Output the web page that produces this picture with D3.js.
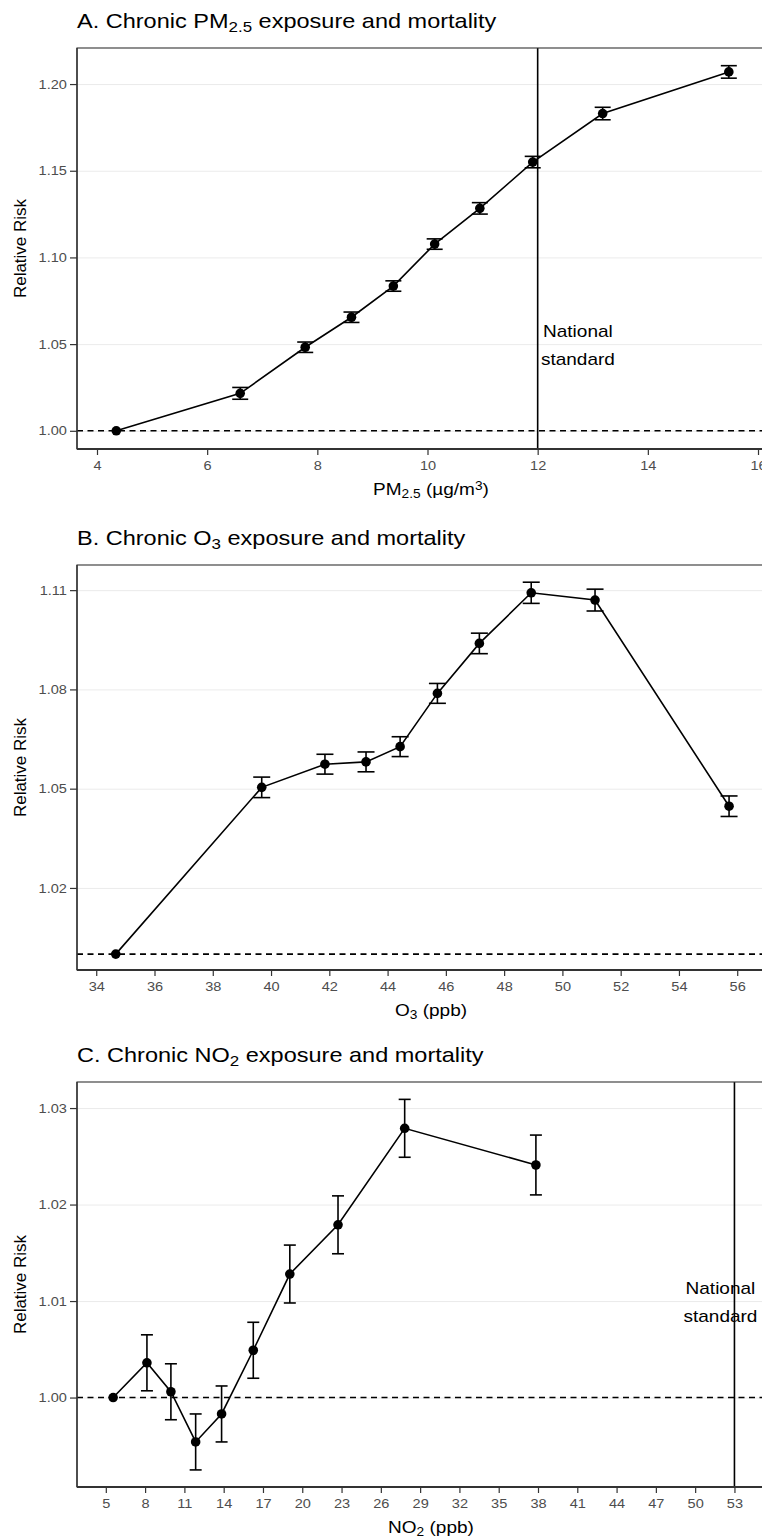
<!DOCTYPE html>
<html>
<head>
<meta charset="utf-8">
<script src="https://cdn.jsdelivr.net/npm/d3@7"></script>
<style>
  body { margin: 0; background: #fff; }
  svg { display: block; font-family: "Liberation Sans", Arial, sans-serif; }
  .grid line { stroke: #ebebeb; stroke-width: 1; }
  .axis text { fill: #4d4d4d; font-size: 13px; }
  .axis path { display: none; }
  .axis line { stroke: #333; stroke-width: 1.2; }
</style>
</head>
<body>
<div id="chart"></div>
<script>
// Panel A: PM2.5
const pmX   = [4.35, 6.60, 7.78, 8.62, 9.38, 10.13, 10.95, 11.91, 13.18, 15.47];
const pmRR  = [1.000, 1.0216, 1.0482, 1.0655, 1.0835, 1.1077, 1.1283, 1.1550, 1.1830, 1.2070];
const pmErr = [0, 0.0034, 0.0030, 0.0030, 0.0030, 0.0030, 0.0033, 0.0033, 0.0036, 0.0036];
const pmXTicks = [4, 6, 8, 10, 12, 14, 16];
const pmYTicks = [1.00, 1.05, 1.10, 1.15, 1.20];

// Panel B: O3
const o3X   = [34.67, 39.68, 41.85, 43.26, 44.43, 45.71, 47.15, 48.93, 51.12, 55.72];
const o3RR  = [1.000, 1.0504, 1.0574, 1.0581, 1.0627, 1.0788, 1.0939, 1.1092, 1.1070, 1.0447];
const o3Err = [0, 0.0031, 0.0030, 0.0030, 0.0030, 0.0030, 0.0031, 0.0032, 0.0033, 0.0031];
const o3XTicks = [34, 36, 38, 40, 42, 44, 46, 48, 50, 52, 54, 56];
const o3YTicks = [1.02, 1.05, 1.08, 1.11];

// Panel C: NO2
const no2X   = [5.56, 8.14, 9.97, 11.86, 13.84, 16.26, 19.05, 22.73, 27.82, 37.84];
const no2RR  = [1.000, 1.0036, 1.0006, 0.9954, 0.9983, 1.0049, 1.0128, 1.0179, 1.0279, 1.0241];
const no2Err = [0, 0.0029, 0.0029, 0.0029, 0.0029, 0.0029, 0.0030, 0.0030, 0.0030, 0.0031];
const no2XTicks = [5, 8, 11, 14, 17, 20, 23, 26, 29, 32, 35, 38, 41, 44, 47, 50, 53];
const no2YTicks = [1.00, 1.01, 1.02, 1.03];

const W = 762, H = 1538;
const SX = 1.12; // text in the original is a little wide

const svg = d3.select("#chart").append("svg")
    .attr("width", W)
    .attr("height", H);

// title / label pieces: [text, "sub" | "sup" | null]
function richText(sel, parts, size) {
    parts.forEach(p => {
        const t = sel.append("tspan").text(p[0]);
        if (p[1] == "sub") t.attr("baseline-shift", "-25%").style("font-size", (size * 0.72) + "px");
        if (p[1] == "sup") t.attr("baseline-shift", "40%").style("font-size", (size * 0.72) + "px");
    });
}

function panel(opt) {
    const left = 77, right = 785;
    const top = opt.top, bottom = opt.bottom;

    var x = d3.scaleLinear().domain(opt.xDomain).range([left, right]);
    var y = d3.scaleLinear().domain(opt.yDomain).range([bottom, top]);

    const g = svg.append("g");

    // title
    richText(g.append("g")
        .attr("transform", "translate(" + left + "," + (top - 20) + ") scale(" + SX + ",1)")
        .append("text")
        .style("font-size", "21px")
        .style("fill", "#000"), opt.title, 21);

    // gridlines (horizontal only)
    g.append("g")
        .attr("class", "grid")
        .attr("transform", "translate(" + left + ",0)")
        .call(d3.axisLeft(y).tickValues(opt.yTicks).tickSize(-(right - left)).tickFormat(""))
        .call(s => s.select(".domain").remove());

    // reference line at RR = 1
    g.append("line")
        .attr("x1", left).attr("x2", right)
        .attr("y1", y(1)).attr("y2", y(1))
        .style("stroke", "#000")
        .style("stroke-width", 1.6)
        .style("stroke-dasharray", "6,4.5");

    // national standard
    if (opt.standard != null) {
        g.append("line")
            .attr("x1", x(opt.standard)).attr("x2", x(opt.standard))
            .attr("y1", top).attr("y2", bottom)
            .style("stroke", "#000")
            .style("stroke-width", 1.6);

        const lab = g.append("g")
            .attr("transform", "translate(" + x(opt.labelX) + "," + y(opt.labelY) + ") scale(" + SX + ",1)")
            .append("text")
            .attr("text-anchor", "middle")
            .style("font-size", "17px")
            .style("fill", "#000");
        lab.append("tspan").attr("x", 0).attr("y", -7).text("National");
        lab.append("tspan").attr("x", 0).attr("y", 21).text("standard");
    }

    const data = opt.xs.map((v, i) => ({ x: v, rr: opt.rr[i], err: opt.err[i] }));
    const bars = data.filter(d => d.err > 0);

    // error bars
    const eb = g.selectAll(".eb").data(bars).enter().append("g")
        .style("stroke", "#000")
        .style("stroke-width", 1.6);
    eb.append("line")
        .attr("x1", d => x(d.x)).attr("x2", d => x(d.x))
        .attr("y1", d => y(d.rr - d.err)).attr("y2", d => y(d.rr + d.err));
    eb.append("line")
        .attr("x1", d => x(d.x) - opt.cap).attr("x2", d => x(d.x) + opt.cap)
        .attr("y1", d => y(d.rr + d.err)).attr("y2", d => y(d.rr + d.err));
    eb.append("line")
        .attr("x1", d => x(d.x) - opt.cap).attr("x2", d => x(d.x) + opt.cap)
        .attr("y1", d => y(d.rr - d.err)).attr("y2", d => y(d.rr - d.err));

    // line
    g.append("path")
        .datum(data)
        .attr("d", d3.line().x(d => x(d.x)).y(d => y(d.rr)))
        .style("fill", "none")
        .style("stroke", "#000")
        .style("stroke-width", 1.6);

    // points
    g.selectAll(".pt").data(data).enter().append("circle")
        .attr("cx", d => x(d.x))
        .attr("cy", d => y(d.rr))
        .attr("r", 4.8)
        .style("fill", "#000");

    // panel border
    g.append("rect")
        .attr("x", left).attr("y", top)
        .attr("width", right - left).attr("height", bottom - top)
        .style("fill", "none")
        .style("stroke", "#333")
        .style("stroke-width", 1.1);

    // axis lines
    g.append("line")
        .attr("x1", left).attr("x2", right).attr("y1", bottom).attr("y2", bottom)
        .style("stroke", "#333").style("stroke-width", 1.8);
    g.append("line")
        .attr("x1", left).attr("x2", left).attr("y1", top).attr("y2", bottom)
        .style("stroke", "#333").style("stroke-width", 1.4);

    // axes
    g.append("g")
        .attr("class", "axis")
        .attr("transform", "translate(0," + bottom + ")")
        .call(d3.axisBottom(x).tickValues(opt.xTicks).tickSize(6).tickPadding(6).tickFormat(d3.format("d")))
        .selectAll("text").attr("transform", "scale(" + SX + ",1)");

    g.append("g")
        .attr("class", "axis")
        .attr("transform", "translate(" + left + ",0)")
        .call(d3.axisLeft(y).tickValues(opt.yTicks).tickSize(7).tickPadding(2).tickFormat(d3.format(".2f")))
        .selectAll("text").attr("transform", "scale(" + SX + ",1)");

    // axis titles
    richText(g.append("g")
        .attr("transform", "translate(431," + (bottom + 46) + ") scale(" + SX + ",1)")
        .append("text")
        .attr("text-anchor", "middle")
        .style("font-size", "17px")
        .style("fill", "#000"), opt.xLabel, 17);

    g.append("text")
        .attr("text-anchor", "middle")
        .attr("transform", "rotate(-90)")
        .attr("x", -(top + bottom) / 2)
        .attr("y", 26)
        .style("font-size", "17px")
        .style("fill", "#000")
        .text("Relative Risk");
}

panel({
    top: 48, bottom: 449,
    xDomain: [3.637, 16.49], yDomain: [0.9895, 1.2208],
    xs: pmX, rr: pmRR, err: pmErr,
    xTicks: pmXTicks, yTicks: pmYTicks,
    cap: 8,
    standard: 12, labelX: 12.73, labelY: 1.05,
    title: [["A. Chronic PM", null], ["2.5", "sub"], [" exposure and mortality", null]],
    xLabel: [["PM", null], ["2.5", "sub"], [" (\u00b5g/m", null], ["3", "sup"], [")", null]]
});

panel({
    top: 565, bottom: 970,
    xDomain: [33.34, 57.64], yDomain: [0.9952, 1.1176],
    xs: o3X, rr: o3RR, err: o3Err,
    xTicks: o3XTicks, yTicks: o3YTicks,
    cap: 8.5,
    standard: null,
    title: [["B. Chronic O", null], ["3", "sub"], [" exposure and mortality", null]],
    xLabel: [["O", null], ["3", "sub"], [" (ppb)", null]]
});

panel({
    top: 1082, bottom: 1487,
    xDomain: [2.80, 56.86], yDomain: [0.99073, 1.0327],
    xs: no2X, rr: no2RR, err: no2Err,
    xTicks: no2XTicks, yTicks: no2YTicks,
    cap: 6,
    standard: 53, labelX: 51.93, labelY: 1.01,
    title: [["C. Chronic NO", null], ["2", "sub"], [" exposure and mortality", null]],
    xLabel: [["NO", null], ["2", "sub"], [" (ppb)", null]]
});
</script>
</body>
</html>
